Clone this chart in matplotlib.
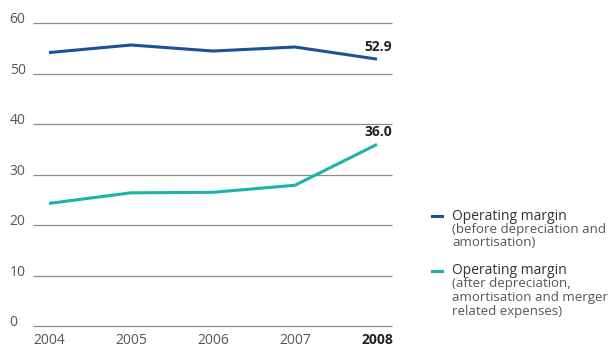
import matplotlib
matplotlib.use("Agg")
import matplotlib.pyplot as plt
from matplotlib.lines import Line2D

years = [2004, 2005, 2006, 2007, 2008]
margin_before = [54.2, 55.7, 54.5, 55.3, 52.9]
margin_after = [24.3, 26.4, 26.5, 27.9, 36.0]
y_ticks = [0, 10, 20, 30, 40, 50, 60]
legend_labels = [
    ("Operating margin", "(before depreciation and\namortisation)"),
    ("Operating margin", "(after depreciation,\namortisation and merger\nrelated expenses)"),
]

BLUE = "#1d4f9a"
TEAL = "#1ab5a8"
GRID = "#8c8c8c"
TEXT = "#555555"
FONT = ["Open Sans", "DejaVu Sans"]

plt.rcParams["font.family"] = FONT

W, H = 613, 349
fig = plt.figure(figsize=(W / 100, H / 100), dpi=100)

x_left, x_right = 33, 392
y0_px, y60_px = 326, 23.3
ax = fig.add_axes([x_left / W, 1 - y0_px / H, (x_right - x_left) / W, (y0_px - y60_px) / H])
xmin = 2004 - 16 / 82
xmax = 2008 + 15 / 82
ax.set_xlim(xmin, xmax)
ax.set_ylim(0, 60)
ax.axis("off")

for t in y_ticks:
    ax.hlines(t, xmin, xmax, color=GRID, lw=0.9, clip_on=False, zorder=1)
    ax.annotate(str(t), xy=(0, t), xycoords=("figure fraction", "data"),
                xytext=(7, 0), textcoords="offset points",
                ha="left", va="baseline", fontsize=10, color=TEXT)

ax.plot(years, margin_before, color=BLUE, lw=2.2, solid_capstyle="butt", zorder=3, clip_on=False)
ax.plot(years, margin_after, color=TEAL, lw=2.2, solid_capstyle="butt", zorder=3, clip_on=False)

for series in (margin_before, margin_after):
    ax.annotate(f"{series[-1]:.1f}", xy=(xmax, series[-1]),
                xytext=(0, 4), textcoords="offset points",
                ha="right", va="bottom", fontsize=10, fontweight="bold", color="#222222")

for i, yr in enumerate(years):
    last = i == len(years) - 1
    ax.annotate(str(yr), xy=(yr, 0), xytext=(0, -13), textcoords="offset points",
                ha="center", va="baseline", fontsize=10,
                fontweight="bold" if last else "normal",
                color="#222222" if last else TEXT)

# Legend drawn by hand: a short coloured dash, a title line and a lighter description
entries = [(BLUE, legend_labels[0], 216), (TEAL, legend_labels[1], 271)]
for color, (title, desc), ypx in entries:
    yf = 1 - ypx / H
    fig.add_artist(Line2D([432 / W, 442 / W], [yf, yf], color=color, lw=2.2,
                          transform=fig.transFigure))
    fig.text(452 / W, yf, title, ha="left", va="center", fontsize=10, color="#333333")
    fig.text(452 / W, yf - 6.5 / H, desc, ha="left", va="top", fontsize=9.5,
             color=TEXT, linespacing=1.05)

fig.savefig("out.png", dpi=100)
